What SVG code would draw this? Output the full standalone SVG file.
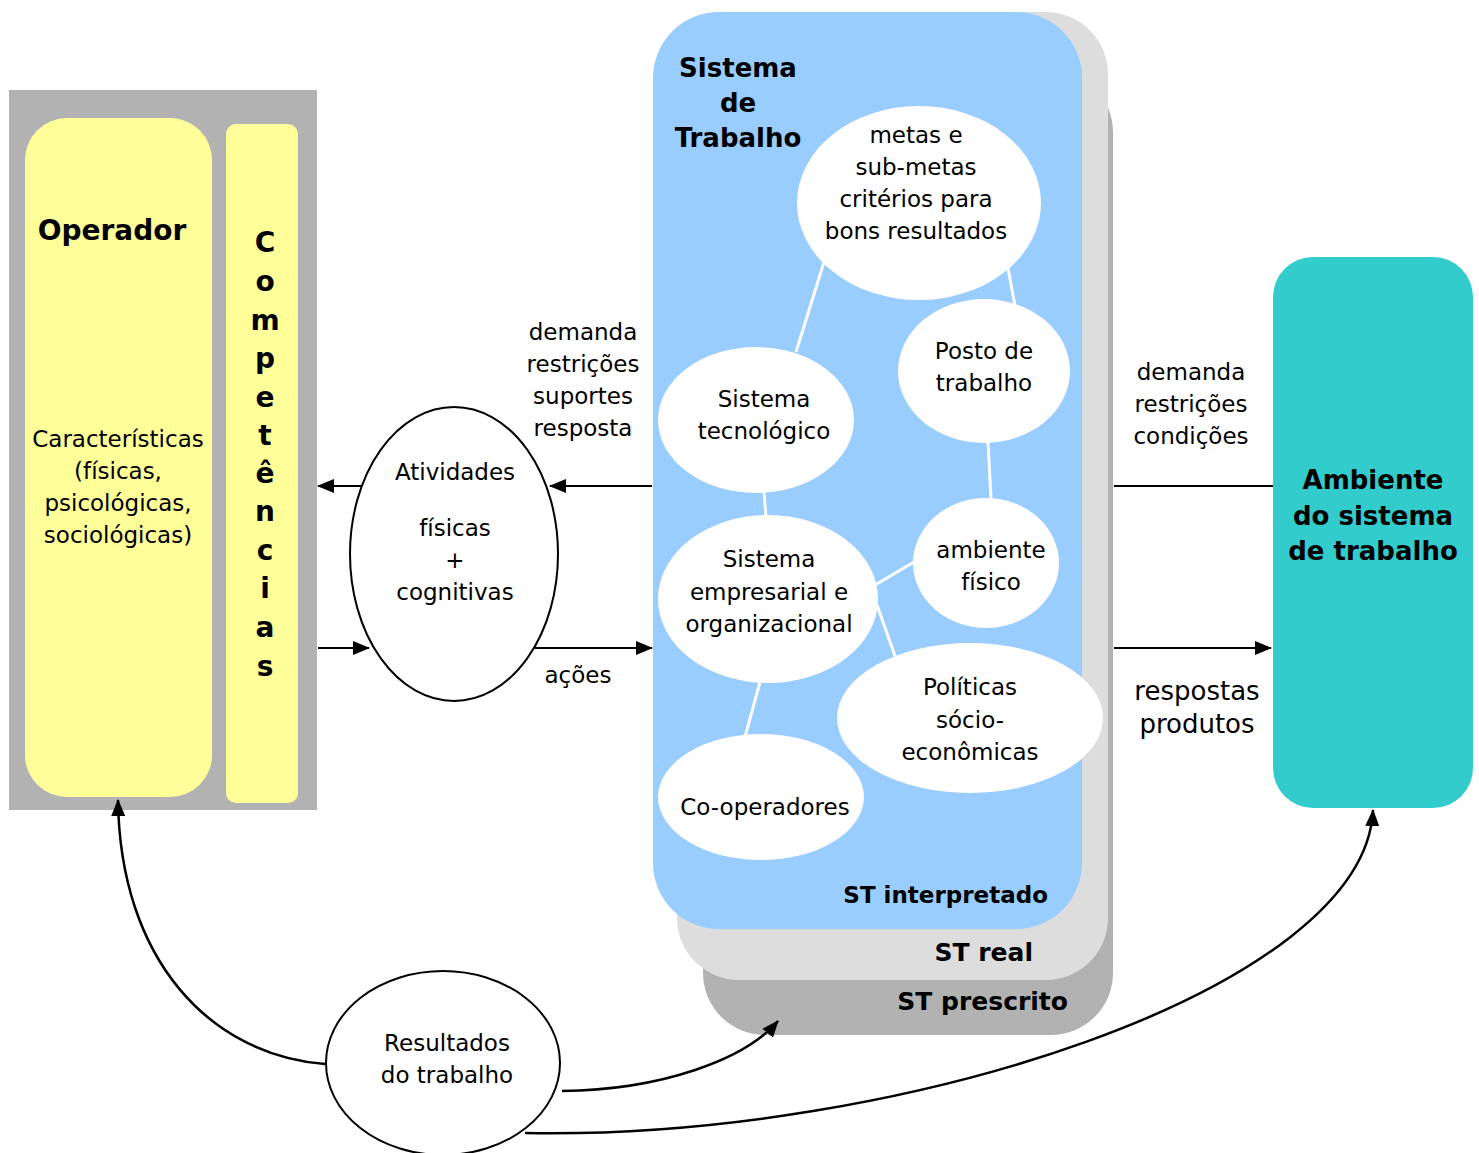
<svg xmlns="http://www.w3.org/2000/svg" width="1479" height="1153" viewBox="0 0 1479 1153">
<defs>
<marker id="ah" markerWidth="17" markerHeight="14" refX="16" refY="7" orient="auto" markerUnits="userSpaceOnUse">
<path d="M0,0 L17,7 L0,14 Z" fill="#000"/>
</marker>
<style>
text{font-family:"DejaVu Sans",Verdana,sans-serif;fill:#000;}
.r{font-size:23px;text-anchor:middle;}
.b{font-size:26px;font-weight:bold;text-anchor:middle;}
.c{font-size:28px;font-weight:bold;text-anchor:middle;}
.st{font-size:25px;font-weight:bold;text-anchor:end;}
.we{fill:#fff;}
.wl{stroke:#fff;stroke-width:3;}
.k{stroke:#000;stroke-width:2;fill:none;}
.kc{stroke:#000;stroke-width:2.5;fill:none;}
.oe{fill:#fff;stroke:#000;stroke-width:2;}
</style>
</defs>
<rect width="1479" height="1153" fill="#fff"/>

<g id="operador-grupo">
<rect x="9" y="90" width="308" height="720" fill="#b2b2b2"/>
</g>
<g id="operador">
<rect x="25" y="118" width="187" height="679" rx="42" fill="#ffff99"/>
<text class="c" x="112" y="240">Operador</text>
<text class="r" x="118" y="447">Características</text>
<text class="r" x="118" y="479">(físicas,</text>
<text class="r" x="118" y="511">psicológicas,</text>
<text class="r" x="118" y="543">sociológicas)</text>
</g>
<g id="competencias">
<rect x="226" y="124" width="72" height="679" rx="10" fill="#ffff99"/>
<text class="c" x="265" y="252">C</text>
<text class="c" x="265" y="291">o</text>
<text class="c" x="265" y="330">m</text>
<text class="c" x="265" y="368">p</text>
<text class="c" x="265" y="407">e</text>
<text class="c" x="265" y="445">t</text>
<text class="c" x="265" y="483">ê</text>
<text class="c" x="265" y="521">n</text>
<text class="c" x="265" y="560">c</text>
<text class="c" x="265" y="598">i</text>
<text class="c" x="265" y="637">a</text>
<text class="c" x="265" y="676">s</text>
</g>

<g id="st-prescrito">
<rect x="703" y="70" width="410" height="965" rx="62" fill="#b2b2b2"/>
<text class="st" x="1068" y="1010">ST prescrito</text>
</g>
<g id="st-real">
<rect x="677" y="12" width="431" height="968" rx="62" fill="#dddddd"/>
<text class="st" x="1033" y="961">ST real</text>
</g>
<g id="st-interpretado">
<rect x="653" y="12" width="429" height="917" rx="66" fill="#99ccff"/>
<text class="b" x="738" y="77">Sistema</text>
<text class="b" x="738" y="112">de</text>
<text class="b" x="738" y="147">Trabalho</text>
<text class="st" x="1048" y="903" style="font-size:23px">ST interpretado</text>
<line class="wl" x1="824" y1="262" x2="796" y2="352"/>
<line class="wl" x1="1008" y1="268" x2="1015" y2="306"/>
<line class="wl" x1="764" y1="492" x2="766" y2="517"/>
<line class="wl" x1="988" y1="442" x2="991" y2="499"/>
<line class="wl" x1="875" y1="585" x2="914" y2="562"/>
<line class="wl" x1="877" y1="605" x2="895" y2="656"/>
<line class="wl" x1="760" y1="682" x2="745" y2="737"/>
</g>
<g id="metas">
<ellipse class="we" cx="919" cy="203" rx="122" ry="97"/>
<text class="r" x="916" y="143">metas e</text>
<text class="r" x="916" y="175">sub-metas</text>
<text class="r" x="916" y="207">critérios para</text>
<text class="r" x="916" y="239">bons resultados</text>
</g>
<g id="posto">
<ellipse class="we" cx="984" cy="371" rx="86" ry="72"/>
<text class="r" x="984" y="359">Posto de</text>
<text class="r" x="984" y="391">trabalho</text>
</g>
<g id="tecnologico">
<ellipse class="we" cx="756" cy="420" rx="98" ry="73"/>
<text class="r" x="764" y="407">Sistema</text>
<text class="r" x="764" y="439">tecnológico</text>
</g>
<g id="empresarial">
<ellipse class="we" cx="768" cy="599" rx="110" ry="84"/>
<text class="r" x="769" y="567">Sistema</text>
<text class="r" x="769" y="600">empresarial e</text>
<text class="r" x="769" y="632">organizacional</text>
</g>
<g id="ambiente-fisico">
<ellipse class="we" cx="986" cy="563" rx="73" ry="65"/>
<text class="r" x="991" y="558">ambiente</text>
<text class="r" x="991" y="590">físico</text>
</g>
<g id="politicas">
<ellipse class="we" cx="970" cy="718" rx="133" ry="75"/>
<text class="r" x="970" y="695">Políticas</text>
<text class="r" x="970" y="728">sócio-</text>
<text class="r" x="970" y="760">econômicas</text>
</g>
<g id="cooperadores">
<ellipse class="we" cx="761" cy="797" rx="103" ry="63"/>
<text class="r" x="765" y="815">Co-operadores</text>
</g>

<g id="atividades">
<ellipse class="oe" cx="454" cy="554" rx="104" ry="147"/>
<text class="r" x="455" y="480">Atividades</text>
<text class="r" x="455" y="536">físicas</text>
<text class="r" x="455" y="568">+</text>
<text class="r" x="455" y="600">cognitivas</text>
</g>

<g id="ambiente">
<rect x="1273" y="257" width="200" height="551" rx="40" fill="#33cccc"/>
<text class="b" x="1373" y="489">Ambiente</text>
<text class="b" x="1373" y="525">do sistema</text>
<text class="b" x="1373" y="560">de trabalho</text>
</g>

<g id="resultados">
<ellipse class="oe" cx="443" cy="1063" rx="117" ry="92"/>
<text class="r" x="447" y="1051">Resultados</text>
<text class="r" x="447" y="1083">do trabalho</text>
</g>

<g id="connectors">
<line class="k" x1="652" y1="486" x2="550" y2="486" marker-end="url(#ah)"/>
<line class="k" x1="362" y1="486" x2="318" y2="486" marker-end="url(#ah)"/>
<line class="k" x1="318" y1="648" x2="369" y2="648" marker-end="url(#ah)"/>
<line class="k" x1="535" y1="648" x2="652" y2="648" marker-end="url(#ah)"/>
<line class="k" x1="1114" y1="486" x2="1273" y2="486"/>
<line class="k" x1="1114" y1="648" x2="1271" y2="648" marker-end="url(#ah)"/>
<path class="kc" d="M325,1064 C210,1055 120,960 118,800" marker-end="url(#ah)"/>
<path class="kc" d="M562,1091 C660,1090 745,1060 778,1021" marker-end="url(#ah)"/>
<path class="kc" d="M525,1133 C900,1140 1365,990 1373,810" marker-end="url(#ah)"/>
<text class="r" x="583" y="340">demanda</text>
<text class="r" x="583" y="372">restrições</text>
<text class="r" x="583" y="404">suportes</text>
<text class="r" x="583" y="436">resposta</text>
<text class="r" x="578" y="683">ações</text>
<text class="r" x="1191" y="380">demanda</text>
<text class="r" x="1191" y="412">restrições</text>
<text class="r" x="1191" y="444">condições</text>
<text class="r" x="1197" y="700" style="font-size:26px">respostas</text>
<text class="r" x="1197" y="733" style="font-size:26px">produtos</text>
</g>
</svg>
